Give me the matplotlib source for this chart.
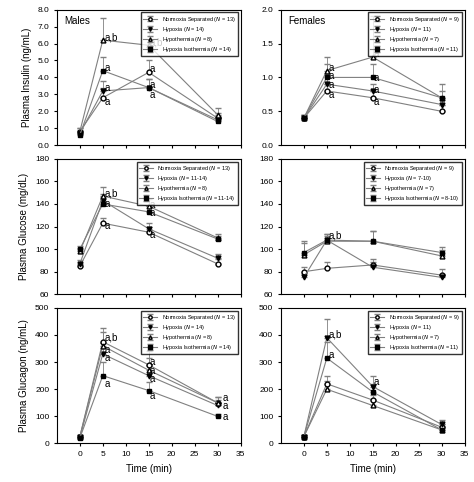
import numpy as np
import matplotlib.pyplot as plt

plt.rcParams['font.family'] = ['Liberation Sans', 'DejaVu Sans']

t = [0, 5, 15, 30]
names = ["Normoxia Separated", "Hypoxia", "Hypothermia", "Hypoxia Isothermia"]
markers = ["o", "v", "^", "s"]
fills = ["white", "black", "white", "black"]

m_ins = [[0.8, 2.8, 4.3, 1.6], [0.7, 3.2, 3.4, 1.5], [0.8, 6.2, 5.9, 1.8], [0.6, 4.4, 3.4, 1.4]]
m_ins_err = [[0.2, 0.6, 0.7, 0.3], [0.2, 0.6, 0.5, 0.2], [0.2, 1.3, 1.1, 0.4], [0.2, 0.8, 0.5, 0.2]]
f_ins = [[0.4, 0.8, 0.7, 0.5], [0.4, 0.9, 0.8, 0.6], [0.4, 1.1, 1.3, 0.7], [0.4, 1.0, 1.0, 0.7]]
f_ins_err = [[0.05, 0.1, 0.1, 0.1], [0.05, 0.15, 0.1, 0.1], [0.05, 0.2, 0.6, 0.2], [0.05, 0.2, 0.2, 0.1]]
m_glu = [[85, 123, 115, 87], [87, 143, 118, 92], [98, 147, 138, 110], [100, 140, 133, 109]]
m_glu_err = [[3, 5, 5, 4], [3, 6, 5, 4], [3, 8, 6, 3], [3, 6, 5, 3]]
f_glu = [[80, 83, 86, 77], [75, 108, 84, 75], [95, 107, 107, 94], [97, 108, 107, 97]]
f_glu_err = [[4, 6, 5, 5], [3, 5, 5, 3], [10, 5, 9, 5], [10, 5, 9, 5]]
m_gcg = [[25, 375, 290, 150], [22, 330, 250, 140], [25, 360, 270, 150], [20, 250, 195, 100]]
m_gcg_err = [[5, 50, 50, 20], [5, 40, 40, 20], [5, 50, 45, 20], [5, 50, 30, 10]]
f_gcg = [[25, 220, 160, 60], [25, 390, 210, 70], [25, 200, 140, 50], [25, 315, 190, 50]]
f_gcg_err = [[5, 30, 20, 10], [5, 70, 40, 15], [5, 30, 20, 10], [5, 60, 30, 10]]

leg_m = [["13", "14", "8", "14"], ["13", "11-14", "8", "11-14"], ["13", "14", "8", "14"]]
leg_f = [["9", "11", "7", "11"], ["9", "7-10", "7", "8-10"], ["9", "11", "7", "11"]]

panels = [
    [(m_ins, m_ins_err, (0, 8), 1, "Plasma Insulin (ng/mL)", "Males"),
     (f_ins, f_ins_err, (0, 2), 0.5, None, "Females")],
    [(m_glu, m_glu_err, (60, 180), 20, "Plasma Glucose (mg/dL)", None),
     (f_glu, f_glu_err, (60, 180), 20, None, None)],
    [(m_gcg, m_gcg_err, (0, 500), 100, "Plasma Glucagon (ng/mL)", None),
     (f_gcg, f_gcg_err, (0, 500), 100, None, None)],
]

fig, axes = plt.subplots(3, 2, figsize=(4.74, 4.82), dpi=100)
for r in range(3):
    for c in range(2):
        ax = axes[r][c]
        data, err, ylim, step, ylabel, title = panels[r][c]
        ns = leg_m[r] if c == 0 else leg_f[r]
        for i in range(4):
            ax.errorbar(t, data[i], yerr=[np.zeros(4), err[i]], color="gray", lw=0.8,
                        marker=markers[i], mfc=fills[i], mec="black", ms=3.5,
                        ecolor="gray", elinewidth=0.6, capsize=2,
                        label=f"{names[i]} ($N$ = {ns[i]})")
        ax.set_xlim(-5, 35)
        ax.set_xticks(range(0, 36, 5))
        ax.set_ylim(*ylim)
        ax.set_yticks(np.arange(ylim[0], ylim[1] + 0.001, step))
        if r == 0 and c == 0:
            ax.set_yticklabels([f"{v:.1f}" for v in np.arange(0, 8.01, 1)])
        if r == 0 and c == 1:
            ax.set_yticklabels([f"{v:.1f}" for v in np.arange(0, 2.01, 0.5)])
        ax.tick_params(labelsize=6, length=2)
        if r < 2:
            ax.set_xticklabels([])
        else:
            ax.set_xlabel("Time (min)", fontsize=7)
        if ylabel:
            ax.set_ylabel(ylabel, fontsize=7)
        if title:
            ax.text(0.04, 0.95, title, transform=ax.transAxes, fontsize=7, va="top")
        ax.legend(fontsize=4, loc="upper right", frameon=True, fancybox=False,
                  edgecolor="black", handlelength=2.5, borderpad=0.4, labelspacing=0.2,
                  markerscale=0.7)

# significance labels
a = axes[0][0]
a.text(5.3, 6.2, "a,b", fontsize=7); a.text(15.3, 5.9, "a,b", fontsize=7)
a.text(5.3, 4.4, "a", fontsize=7); a.text(15.3, 4.3, "a", fontsize=7)
a.text(5.3, 3.2, "a", fontsize=7); a.text(5.3, 2.4, "a", fontsize=7)
a.text(15.3, 3.4, "a", fontsize=7); a.text(15.3, 2.8, "a", fontsize=7)
a = axes[0][1]
a.text(5.3, 1.1, "a", fontsize=7); a.text(5.3, 0.97, "a", fontsize=7)
a.text(5.3, 0.85, "a", fontsize=7); a.text(5.3, 0.7, "a", fontsize=7)
a.text(15.3, 1.3, "a", fontsize=7); a.text(15.3, 0.95, "a", fontsize=7)
a.text(15.3, 0.77, "a", fontsize=7); a.text(15.3, 0.6, "a", fontsize=7)
a = axes[1][0]
a.text(5.3, 147, "a,b", fontsize=7); a.text(5.3, 137, "a", fontsize=7)
a.text(5.3, 118, "a", fontsize=7); a.text(15.3, 136, "a", fontsize=7)
a.text(15.3, 129, "a", fontsize=7); a.text(15.3, 110, "a", fontsize=7)
axes[1][1].text(5.3, 109, "a,b", fontsize=7)
a = axes[2][0]
a.text(5.3, 380, "a,b", fontsize=7); a.text(5.3, 335, "a", fontsize=7)
a.text(5.3, 305, "a", fontsize=7); a.text(5.3, 210, "a", fontsize=7)
a.text(15.3, 290, "a", fontsize=7); a.text(15.3, 255, "a", fontsize=7)
a.text(15.3, 225, "a", fontsize=7); a.text(15.3, 165, "a", fontsize=7)
a.text(31, 155, "a", fontsize=7); a.text(31, 128, "a", fontsize=7)
a.text(31, 85, "a", fontsize=7)
a = axes[2][1]
a.text(5.3, 390, "a,b", fontsize=7); a.text(5.3, 315, "a", fontsize=7)
a.text(15.3, 215, "a", fontsize=7)

plt.subplots_adjust(left=0.12, right=0.98, top=0.98, bottom=0.08, hspace=0.1, wspace=0.22)
plt.savefig("out.png")
